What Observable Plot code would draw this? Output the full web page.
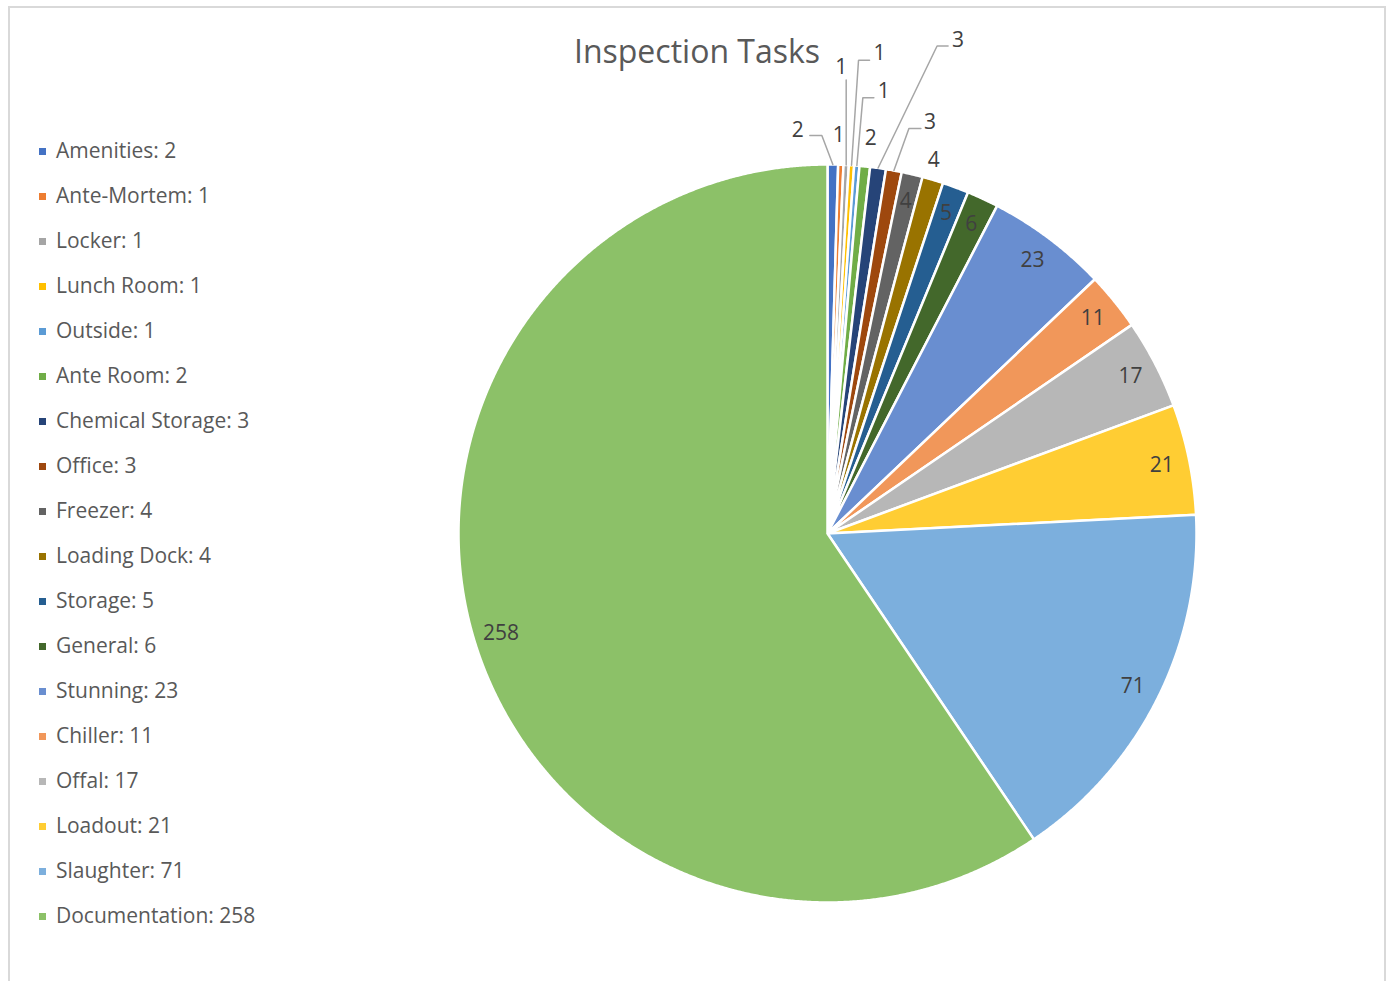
<!DOCTYPE html>
<html>
<head>
<meta charset="utf-8">
<script src="https://cdn.jsdelivr.net/npm/d3@7"></script>
<script src="https://cdn.jsdelivr.net/npm/@observablehq/plot@0.6"></script>
<style>
  html, body { margin: 0; padding: 0; overflow: hidden; background: #fff; }
  body { width: 1391px; height: 981px; position: relative; font-family: "Open Sans", sans-serif; }
  #chart { position: absolute; left: 0; top: 0; }
  #frame { position: absolute; left: 8px; top: 6px; width: 1378px; height: 1000px; box-sizing: border-box;
           border: 2px solid #D9D9D9; border-bottom: none; pointer-events: none; }
  #title { position: absolute; left: 0; width: 1394px; top: 35px; text-align: center; font-size: 32px;
           line-height: 32px; color: #595959; white-space: nowrap; }
  .lg { position: absolute; left: 39px; height: 24px; font-size: 21px; line-height: 24px; color: #595959; white-space: nowrap; }
  .lg span.sw { position: absolute; left: 0; top: 10px; width: 7px; height: 7px; }
  .lg span.tx { position: absolute; left: 17px; top: 0; }
</style>
</head>
<body>
<div id="chart"></div>
<div id="title">Inspection Tasks</div>
<div id="legend"></div>
<div id="frame"></div>
<script>
// ---- data ----
const categories = ["Amenities","Ante-Mortem","Locker","Lunch Room","Outside","Ante Room","Chemical Storage","Office","Freezer","Loading Dock","Storage","General","Stunning","Chiller","Offal","Loadout","Slaughter","Documentation"];
const counts = [2,1,1,1,1,2,3,3,4,4,5,6,23,11,17,21,71,258];
const colors = ["#4472C4","#ED7D31","#A5A5A5","#FFC000","#5B9BD5","#70AD47","#264478","#9E480E","#636363","#997300","#255E91","#43682B","#698ED0","#F1975A","#B7B7B7","#FFCD33","#7CAFDD","#8CC168"];

// ---- layout (pixel offsets from each slice's outer edge) ----
const outsideLabels = [
  {name: "Amenities",        label: [-35, -34], leader: [[-11, -29], [-23, -29]]},
  {name: "Ante-Mortem",      label: [-2, -29],  leader: []},
  {name: "Locker",           label: [-5, -98],  leader: [[0, -85]]},
  {name: "Lunch Room",       label: [28, -112], leader: [[7, -105], [18, -105]]},
  {name: "Outside",          label: [27, -74],  leader: [[6, -68], [17, -68]]},
  {name: "Ante Room",        label: [6, -28],   leader: []},
  {name: "Chemical Storage", label: [80, -128], leader: [[59, -122], [70, -122]]},
  {name: "Office",           label: [36, -48],  leader: [[15, -42], [27, -42]]},
  {name: "Loading Dock",     label: [1, -20],   leader: []}
];

const W = 1391, H = 981, cx = 827, cy = 533, R = 369;
const insideR = 0.925;

const arcs = d3.pie().sort(null).value(d => d)(counts);
const slices = arcs.map((a, i) => ({name: categories[i], value: counts[i], a0: a.startAngle, a1: a.endAngle, mid: (a.startAngle + a.endAngle) / 2}));

// polygon outlines for each slice
const polyPts = [];
for (const s of slices) {
  polyPts.push({name: s.name, x: 0, y: 0});
  const n = Math.max(2, Math.ceil((s.a1 - s.a0) / 0.004));
  for (let k = 0; k <= n; k++) {
    const t = s.a0 + (s.a1 - s.a0) * k / n;
    polyPts.push({name: s.name, x: Math.sin(t), y: Math.cos(t)});
  }
  polyPts.push({name: s.name, x: 0, y: 0});
}

const outsideMap = new Map(outsideLabels.map(d => [d.name, d]));
const insideText = slices.filter(s => !outsideMap.has(s.name)).map(s => ({
  text: String(s.value), x: insideR * Math.sin(s.mid), y: insideR * Math.cos(s.mid)
}));
const outsideText = [];
const leaderPts = [];
for (const s of slices) {
  const o = outsideMap.get(s.name);
  if (!o) continue;
  const ex = Math.sin(s.mid), ey = Math.cos(s.mid);
  outsideText.push({text: String(s.value), x: ex + o.label[0] / R, y: ey - o.label[1] / R});
  if (o.leader.length) {
    leaderPts.push({name: s.name, x: ex, y: ey});
    for (const p of o.leader) leaderPts.push({name: s.name, x: ex + p[0] / R, y: ey - p[1] / R});
  }
}

const plot = Plot.plot({
  width: W, height: H,
  margin: 0,
  x: {domain: [-cx / R, (W - cx) / R], range: [0, W], axis: null},
  y: {domain: [-(H - cy) / R, cy / R], range: [H, 0], axis: null},
  color: {domain: categories, range: colors},
  style: {background: "transparent"},
  marks: [
    Plot.line(polyPts, {x: "x", y: "y", z: "name", fill: "name", stroke: "white", strokeWidth: 2.5, strokeLinejoin: "round"}),
    Plot.line(leaderPts, {x: "x", y: "y", z: "name", stroke: "#A6A6A6", strokeWidth: 1.5, strokeLinejoin: "miter"}),
    Plot.text(insideText, {x: "x", y: "y", text: "text", fill: "#404040", fontSize: 21, fontFamily: "Open Sans"}),
    Plot.text(outsideText, {x: "x", y: "y", text: "text", fill: "#404040", fontSize: 21, fontFamily: "Open Sans"})
  ]
});
document.getElementById("chart").appendChild(plot);

// legend
const lg = document.getElementById("legend");
categories.forEach((c, i) => {
  const d = document.createElement("div");
  d.className = "lg";
  d.style.top = (138 + 45 * i) + "px";
  const sw = document.createElement("span");
  sw.className = "sw";
  sw.style.background = colors[i];
  const tx = document.createElement("span");
  tx.className = "tx";
  tx.textContent = c + ": " + counts[i];
  d.appendChild(sw); d.appendChild(tx);
  lg.appendChild(d);
});
</script>
</body>
</html>
